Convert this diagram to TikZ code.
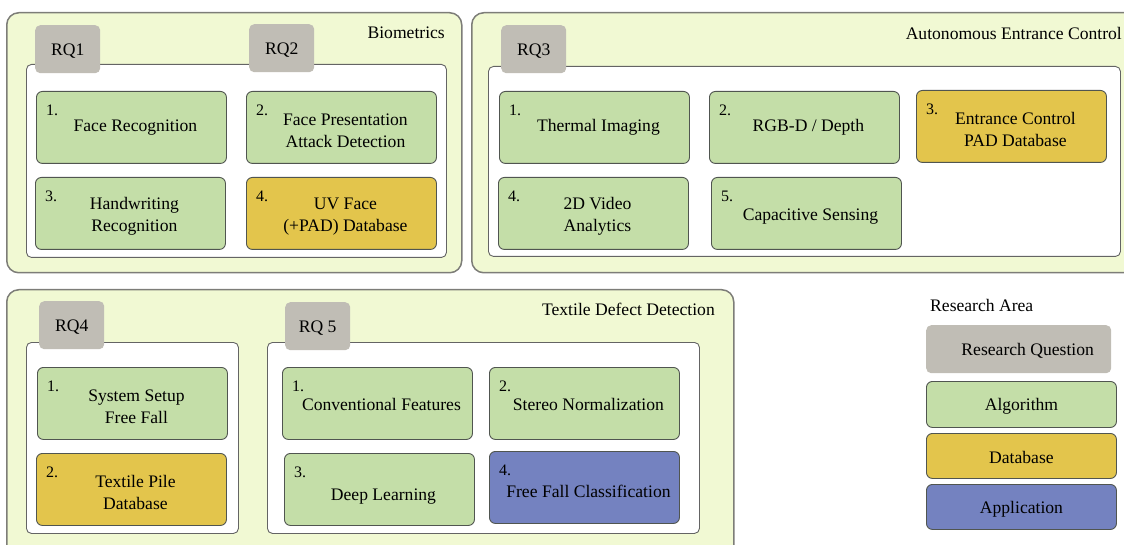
\documentclass[tikz,border=0pt]{standalone}
\usepackage{fontspec}
\setmainfont{Liberation Serif}
\definecolor{outerfill}{RGB}{241,249,211}
\definecolor{outerline}{RGB}{125,125,120}
\definecolor{innerline}{RGB}{100,100,100}
\definecolor{boxline}{RGB}{80,85,80}
\definecolor{algofill}{RGB}{196,222,168}
\definecolor{dbfill}{RGB}{227,197,76}
\definecolor{appfill}{RGB}{116,130,192}
\definecolor{rqfill}{RGB}{192,189,181}
\newcommand{\bodyfont}{\fontsize{17.6}{22}\selectfont}
\newcommand{\numfont}{\fontsize{16}{18}\selectfont}
% \itembox[text shift]{style}{name}{position}{number}{text}
\newcommand{\itembox}[6][4,3]{%
  \node[#2] (#3) at (#4) {};
  \node[num] (#3-n) at ([shift={(10,14)}]#3.north west) {#5};
  \node[boxtext] (#3-t) at ([shift={(#1)}]#3.center) {#6};
}
\begin{document}
\begin{tikzpicture}[x=1pt,y=-1pt,
  outer/.style={draw=outerline, line width=1.5pt, fill=outerfill, rounded corners=12pt, anchor=north west, inner sep=0},
  inner/.style={draw=innerline, line width=0.9pt, fill=white, rounded corners=5pt, anchor=north west, inner sep=0},
  box/.style={draw=boxline, line width=0.9pt, rounded corners=6pt, minimum width=190pt, minimum height=72pt, anchor=north west, inner sep=0},
  algo/.style={box, fill=algofill},
  dbase/.style={box, fill=dbfill},
  appl/.style={box, fill=appfill},
  boxtext/.style={align=center, font=\bodyfont, inner sep=0},
  rq/.style={fill=rqfill, rounded corners=5pt, minimum width=65pt, minimum height=48pt, anchor=north west, inner sep=0},
  num/.style={anchor=north west, font=\numfont, inner sep=0},
  title/.style={anchor=east, font=\bodyfont, inner sep=0}
]
\useasboundingbox (0,0) rectangle (1124,545);
\clip (0,0) rectangle (1124,545);

% ---------- Biometrics ----------
\node[outer, minimum width=455pt, minimum height=260pt] (bio) at (6,12) {};
\node[title] (biot) at (445,33) {Biometrics};
\node[inner, minimum width=420pt, minimum height=193pt] (bioin) at (26,64) {};
\node[rq] (rq1) at (35,25) {};
\node[boxtext] (rq1-t) at ([shift={(0,2)}]rq1.center) {RQ1};
\node[rq] (rq2) at (249,24) {};
\node[boxtext] (rq2-t) at ([shift={(0,2)}]rq2.center) {RQ2};
\itembox[4,0]{algo}{b1}{36,91}{1.}{Face Recognition}
\itembox{algo}{b2}{246,91}{2.}{Face Presentation\\Attack Detection}
\itembox{algo}{b3}{35,177}{3.}{Handwriting\\Recognition}
\itembox{dbase}{b4}{246,177}{4.}{UV Face\\(+PAD) Database}

% ---------- Autonomous Entrance Control ----------
\node[outer, minimum width=670pt, minimum height=260pt] (aec) at (471,12) {};
\node[title] (aect) at (1122,33) {Autonomous Entrance Control};
\node[inner, minimum width=632pt, minimum height=190pt] (aecin) at (488,66) {};
\node[rq] (rq3) at (501,25) {};
\node[boxtext] (rq3-t) at ([shift={(0,2)}]rq3.center) {RQ3};
\itembox[4,0]{algo}{a1}{499,91}{1.}{Thermal Imaging}
\itembox[4,0]{algo}{a2}{709,91}{2.}{RGB-D / Depth}
\itembox{dbase}{a3}{916,90}{3.}{Entrance Control\\PAD Database}
\itembox{algo}{a4}{498,177}{4.}{2D Video\\Analytics}
\itembox{algo}{a5}{711,177}{5.}{Capacitive Sensing}

% ---------- Textile Defect Detection ----------
\node[outer, minimum width=727pt, minimum height=275pt] (tdd) at (6,289) {};
\node[title] (tddt) at (715,309) {Textile Defect Detection};
\node[inner, minimum width=212pt, minimum height=191pt] (tin1) at (26,342) {};
\node[inner, minimum width=432pt, minimum height=191pt] (tin2) at (267,342) {};
\node[rq] (rq4) at (39,301) {};
\node[boxtext] (rq4-t) at ([shift={(0,2)}]rq4.center) {RQ4};
\node[rq] (rq5) at (285,302) {};
\node[boxtext] (rq5-t) at ([shift={(0,2)}]rq5.center) {RQ 5};
\itembox{algo}{t1}{37,367}{1.}{System Setup\\Free Fall}
\itembox{dbase}{t2}{36,453}{2.}{Textile Pile\\Database}
\itembox[4,1]{algo}{t3}{282,367}{1.}{Conventional Features}
\itembox[4,1]{algo}{t4}{489,367}{2.}{Stereo Normalization}
\itembox[4,7]{algo}{t5}{284,453}{3.}{Deep Learning}
\itembox[4,4]{appl}{t6}{489,451}{4.}{Free Fall Classification}

% ---------- Legend ----------
\node[anchor=west, font=\bodyfont, inner sep=0] (lgt) at (930,305) {Research Area};
\node[rq, minimum width=185pt] (lrq) at (926,325) {};
\node[boxtext] (lrq-t) at ([shift={(9,2)}]lrq.center) {Research Question};
\node[algo, minimum height=46pt] (lalg) at (926,381) {};
\node[boxtext] (lalg-t) at ([shift={(0,2)}]lalg.center) {Algorithm};
\node[dbase, minimum height=45pt] (ldb) at (926,433) {};
\node[boxtext] (ldb-t) at ([shift={(0,2)}]ldb.center) {Database};
\node[appl, minimum height=45pt] (lapp) at (926,484) {};
\node[boxtext] (lapp-t) at ([shift={(0,2)}]lapp.center) {Application};
\end{tikzpicture}
\end{document}
